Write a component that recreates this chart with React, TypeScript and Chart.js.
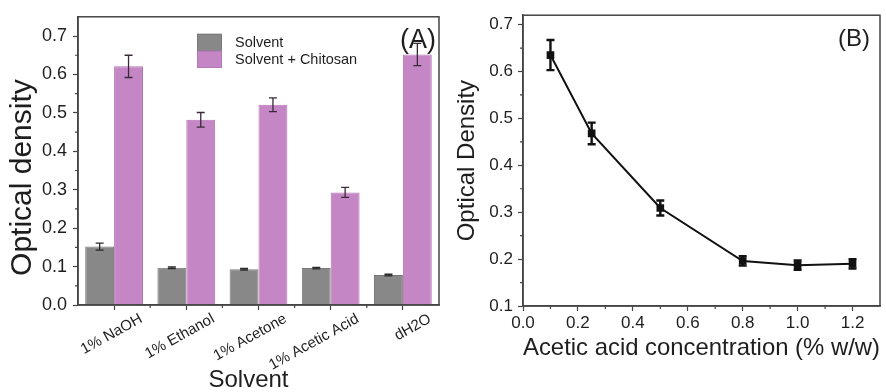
import React, { useEffect, useRef } from 'react';
import { Chart, registerables } from 'chart.js';

Chart.register(...registerables);

// ---------- Panel A data ----------
const solvents = ['1% NaOH', '1% Ethanol', '1% Acetone', '1% Acetic Acid', 'dH2O'];
const solventOnly = [0.152, 0.097, 0.093, 0.096, 0.078];
const solventOnlyErr = [0.009, 0.002, 0.002, 0.002, 0.002];
const solventChitosan = [0.621, 0.482, 0.521, 0.293, 0.652];
const solventChitosanErr = [0.029, 0.019, 0.018, 0.013, 0.029];
const yTicksA = [0, 0.1, 0.2, 0.3, 0.4, 0.5, 0.6, 0.7];
const yMinorA = [0.05, 0.15, 0.25, 0.35, 0.45, 0.55, 0.65];
const xMinorA = [0.5, 1.5, 2.5, 3.5];

// ---------- Panel B data ----------
const concentration = [0.1, 0.25, 0.5, 0.8, 1.0, 1.2];
const density = [0.635, 0.468, 0.309, 0.196, 0.187, 0.19];
const densityErr = [0.032, 0.023, 0.016, 0.01, 0.01, 0.01];
const xTicksB = [0, 0.2, 0.4, 0.6, 0.8, 1.0, 1.2];
const xMinorB = [0.1, 0.3, 0.5, 0.7, 0.9, 1.1];
const yTicksB = [0.1, 0.2, 0.3, 0.4, 0.5, 0.6, 0.7];
const yMinorB = [0.15, 0.25, 0.35, 0.45, 0.55, 0.65];

const FONT = "'Liberation Sans', Arial, Helvetica, sans-serif";
const AXIS = '#444444';
const TEXT = '#1e1e1e';
const GRAY = '#888888';
const PINK = '#c586c6';

const framePlugin = {
  id: 'frame',
  afterDraw(chart: any) {
    const { ctx, chartArea: a } = chart;
    ctx.save();
    ctx.strokeStyle = AXIS;
    ctx.lineWidth = 1.5;
    ctx.strokeRect(a.left, a.top, a.right - a.left, a.bottom - a.top);
    ctx.restore();
  },
};

const minorTicksPlugin = {
  id: 'minorTicks',
  afterDraw(chart: any, _args: any, opts: any) {
    const { ctx, chartArea: a } = chart;
    const len = opts.len || 3;
    ctx.save();
    ctx.strokeStyle = AXIS;
    ctx.lineWidth = 1.2;
    ctx.beginPath();
    (opts.x || []).forEach((v: number) => {
      const px = chart.scales.x.getPixelForValue(v);
      ctx.moveTo(px, a.bottom);
      ctx.lineTo(px, a.bottom + len);
    });
    (opts.y || []).forEach((v: number) => {
      const py = chart.scales.y.getPixelForValue(v);
      ctx.moveTo(a.left - len, py);
      ctx.lineTo(a.left, py);
    });
    ctx.stroke();
    ctx.restore();
  },
};

const errorBarsPlugin = {
  id: 'errorBars',
  afterDatasetsDraw(chart: any, _args: any, opts: any) {
    const { ctx } = chart;
    const yScale = chart.scales.y;
    ctx.save();
    (opts.errors || []).forEach((errs: number[] | null, di: number) => {
      if (!errs) return;
      const meta = chart.getDatasetMeta(di);
      const data = chart.data.datasets[di].data;
      ctx.strokeStyle = (opts.colors && opts.colors[di]) || '#222';
      ctx.lineWidth = opts.width || 1.3;
      const cap = opts.cap || 4;
      meta.data.forEach((el: any, i: number) => {
        const raw = data[i];
        const v = typeof raw === 'object' ? raw.y : raw;
        const e = errs[i];
        const x = el.x;
        const yt = yScale.getPixelForValue(v + e);
        const yb = yScale.getPixelForValue(v - e);
        ctx.beginPath();
        ctx.moveTo(x, yt);
        ctx.lineTo(x, yb);
        ctx.moveTo(x - cap, yt);
        ctx.lineTo(x + cap, yt);
        ctx.moveTo(x - cap, yb);
        ctx.lineTo(x + cap, yb);
        ctx.stroke();
      });
    });
    ctx.restore();
  },
};

const panelLabelPlugin = {
  id: 'panelLabel',
  afterDraw(chart: any, _args: any, opts: any) {
    const { ctx, chartArea: a } = chart;
    ctx.save();
    ctx.fillStyle = TEXT;
    ctx.font = `${opts.size}px ${FONT}`;
    ctx.textAlign = 'right';
    ctx.textBaseline = 'middle';
    ctx.fillText(opts.text, a.right - opts.dx, a.top + opts.dy);
    ctx.restore();
  },
};

const boxLegendPlugin = {
  id: 'boxLegend',
  afterDraw(chart: any, _args: any, opts: any) {
    if (!opts.show) return;
    const { ctx, chartArea: a } = chart;
    ctx.save();
    ctx.font = `${opts.size}px ${FONT}`;
    ctx.textBaseline = 'middle';
    ctx.textAlign = 'left';
    chart.data.datasets.forEach((ds: any, i: number) => {
      const x = a.left + opts.dx;
      const y = a.top + opts.dy + i * opts.boxH;
      ctx.fillStyle = ds.backgroundColor;
      ctx.fillRect(x, y, opts.boxW, opts.boxH);
      ctx.strokeStyle = ds.borderColor;
      ctx.lineWidth = 0.8;
      ctx.strokeRect(x + 0.4, y + 0.4, opts.boxW - 0.8, opts.boxH - 0.8);
      ctx.fillStyle = TEXT;
      ctx.fillText(ds.label, x + opts.boxW + opts.gap, y + opts.boxH / 2 + 0.5);
    });
    ctx.restore();
  },
};

const fmt1 = (v: any) => Number(v).toFixed(1);

function PanelA() {
  const ref = useRef<HTMLCanvasElement | null>(null);
  useEffect(() => {
    if (!ref.current) return;
    const chart = new Chart(ref.current, {
      type: 'bar',
      data: {
        labels: solvents,
        datasets: [
          {
            label: 'Solvent',
            data: solventOnly,
            backgroundColor: GRAY,
            borderColor: '#777777',
            borderWidth: 1,
          },
          {
            label: 'Solvent + Chitosan',
            data: solventChitosan,
            backgroundColor: PINK,
            borderColor: '#b274b4',
            borderWidth: 1,
          },
        ],
      },
      options: {
        animation: false,
        responsive: false,
        devicePixelRatio: 1,
        layout: { padding: { top: 16, right: 1, left: 0, bottom: 0 } },
        datasets: { bar: { categoryPercentage: 0.8, barPercentage: 1.0 } },
        plugins: {
          legend: { display: false },
          tooltip: { enabled: false },
          errorBars: {
            errors: [solventOnlyErr, solventChitosanErr],
            colors: ['#2a2a2a', '#3a2a3a'],
            width: 1.3,
            cap: 4,
          },
          minorTicks: { x: xMinorA, y: yMinorA, len: 3 },
          panelLabel: { text: '(A)', size: 27, dx: 3, dy: 24 },
          boxLegend: { show: true, size: 14.5, dx: 119, dy: 17, boxW: 25, boxH: 17, gap: 13 },
        } as any,
        scales: {
          x: {
            type: 'category',
            offset: true,
            border: { display: true, color: AXIS, width: 1.5 },
            grid: {
              display: true,
              offset: false,
              drawOnChartArea: false,
              drawTicks: true,
              tickLength: 5,
              tickWidth: 1.2,
              tickColor: AXIS,
            },
            ticks: {
              autoSkip: false,
              minRotation: 29,
              maxRotation: 29,
              labelOffset: 27,
              padding: 0,
              color: TEXT,
              font: { family: FONT, size: 15 },
            },
            title: {
              display: true,
              text: 'Solvent   ',
              color: TEXT,
              font: { family: FONT, size: 24, lineHeight: 1 },
              padding: { top: 0, bottom: 0 },
            },
            afterFit: (s: any) => {
              s.height = 87;
            },
          },
          y: {
            type: 'linear',
            min: 0,
            max: 0.75,
            border: { display: true, color: AXIS, width: 1.5 },
            grid: {
              display: true,
              drawOnChartArea: false,
              drawTicks: true,
              tickLength: 5,
              tickWidth: 1.2,
              tickColor: AXIS,
            },
            ticks: {
              padding: 6,
              color: TEXT,
              font: { family: FONT, size: 18 },
              callback: fmt1,
            },
            afterBuildTicks: (s: any) => {
              s.ticks = yTicksA.map((v) => ({ value: v }));
            },
            title: {
              display: true,
              text: 'Optical density    ',
              color: TEXT,
              font: { family: FONT, size: 30, lineHeight: 1.2 },
              padding: { top: 5, bottom: 0 },
            },
            afterFit: (s: any) => {
              s.width = 78;
            },
          },
        },
      },
      plugins: [framePlugin, minorTicksPlugin, errorBarsPlugin, panelLabelPlugin, boxLegendPlugin],
    });
    return () => chart.destroy();
  }, []);
  return (
    <canvas
      ref={ref}
      width={440}
      height={392}
      style={{ position: 'absolute', left: 0, top: 0, width: 440, height: 392 }}
    />
  );
}

function PanelB() {
  const ref = useRef<HTMLCanvasElement | null>(null);
  useEffect(() => {
    if (!ref.current) return;
    const chart = new Chart(ref.current, {
      type: 'line',
      data: {
        datasets: [
          {
            label: 'Optical Density',
            data: concentration.map((x, i) => ({ x, y: density[i] })),
            borderColor: '#111111',
            backgroundColor: '#111111',
            borderWidth: 2,
            tension: 0,
            pointStyle: 'rect',
            pointRadius: 4,
            pointBackgroundColor: '#111111',
            pointBorderColor: '#111111',
          },
        ],
      },
      options: {
        animation: false,
        responsive: false,
        devicePixelRatio: 1,
        layout: { padding: { top: 15, right: 1, left: 0, bottom: 0 } },
        plugins: {
          legend: { display: false },
          tooltip: { enabled: false },
          errorBars: { errors: [densityErr], colors: ['#111111'], width: 2.4, cap: 4 },
          minorTicks: { x: xMinorB, y: yMinorB, len: 3 },
          panelLabel: { text: '(B)', size: 24, dx: 10, dy: 24 },
          boxLegend: { show: false },
        } as any,
        scales: {
          x: {
            type: 'linear',
            min: 0,
            max: 1.3,
            border: { display: true, color: AXIS, width: 1.5 },
            grid: {
              display: true,
              drawOnChartArea: false,
              drawTicks: true,
              tickLength: 5,
              tickWidth: 1.2,
              tickColor: AXIS,
            },
            ticks: {
              padding: 2,
              color: TEXT,
              font: { family: FONT, size: 17 },
              callback: fmt1,
              maxRotation: 0,
            },
            afterBuildTicks: (s: any) => {
              s.ticks = xTicksB.map((v) => ({ value: v }));
            },
            title: {
              display: true,
              text: 'Acetic acid concentration (% w/w)',
              color: TEXT,
              font: { family: FONT, size: 24, lineHeight: 1 },
              padding: { top: 0, bottom: 32 },
            },
            afterFit: (s: any) => {
              s.height = 86;
            },
          },
          y: {
            type: 'linear',
            min: 0.1,
            max: 0.72,
            border: { display: true, color: AXIS, width: 1.5 },
            grid: {
              display: true,
              drawOnChartArea: false,
              drawTicks: true,
              tickLength: 5,
              tickWidth: 1.2,
              tickColor: AXIS,
            },
            ticks: {
              padding: 5,
              color: TEXT,
              font: { family: FONT, size: 17 },
              callback: fmt1,
            },
            afterBuildTicks: (s: any) => {
              s.ticks = yTicksB.map((v) => ({ value: v }));
            },
            title: {
              display: true,
              text: 'Optical Density',
              color: TEXT,
              font: { family: FONT, size: 24, lineHeight: 1.2 },
              padding: { top: 13, bottom: 0 },
            },
            afterFit: (s: any) => {
              s.width = 83;
            },
          },
        },
      },
      plugins: [framePlugin, minorTicksPlugin, errorBarsPlugin, panelLabelPlugin, boxLegendPlugin],
    });
    return () => chart.destroy();
  }, []);
  return (
    <canvas
      ref={ref}
      width={446}
      height={392}
      style={{ position: 'absolute', left: 440, top: 0, width: 446, height: 392 }}
    />
  );
}

export default function App() {
  return (
    <div
      style={{
        position: 'absolute',
        left: 0,
        top: 0,
        width: 886,
        height: 392,
        background: '#ffffff',
        overflow: 'hidden',
      }}
    >
      <PanelA />
      <PanelB />
    </div>
  );
}
